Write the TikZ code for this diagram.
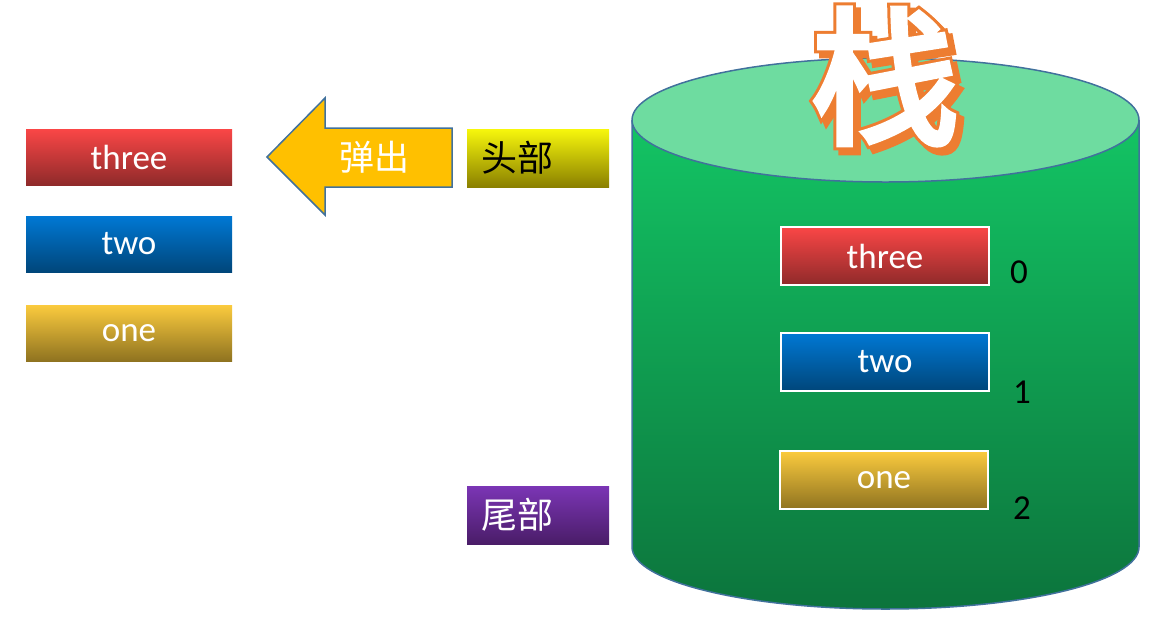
\documentclass[tikz,border=0pt]{standalone}
\usepackage{fontspec}
\usetikzlibrary{calc}
\setmainfont{Carlito}
\newfontfamily\cjk{Noto Sans CJK SC}
\definecolor{redT}{HTML}{FA4646}
\definecolor{redB}{HTML}{8F2A2A}
\definecolor{bluT}{HTML}{0078D4}
\definecolor{bluB}{HTML}{00467A}
\definecolor{golT}{HTML}{FBCB3E}
\definecolor{golB}{HTML}{8F7320}
\definecolor{yelT}{HTML}{F7F70C}
\definecolor{yelB}{HTML}{8A8000}
\definecolor{purT}{HTML}{7B35B5}
\definecolor{purB}{HTML}{4A1D68}
\definecolor{cylT}{HTML}{13C464}
\definecolor{cylB}{HTML}{0C743C}
\definecolor{cylTop}{HTML}{6EDCA0}
\definecolor{edge}{HTML}{41719C}
\definecolor{arrowfill}{HTML}{FFC000}
\definecolor{orng}{HTML}{ED7D31}
\newcommand{\strk}[2]{\special{pdf:code 2 Tr #1 w #2 RG}}
\newcommand{\unstrk}{\special{pdf:code 0 Tr}}
\newcommand{\zhan}{栈}
\begin{document}
\begin{tikzpicture}[x=1pt,y=-1pt,
  item/.style={minimum width=206pt,minimum height=56pt,inner sep=0pt,text=white,font=\fontsize{35}{35}\selectfont},
  inner/.style={item,minimum width=208pt,minimum height=58pt,draw=white,line width=2pt},
  redbox/.style={top color=redT,bottom color=redB},
  bluebox/.style={top color=bluT,bottom color=bluB},
  goldbox/.style={top color=golT,bottom color=golB},
  tag/.style={minimum width=142pt,minimum height=58pt,inner sep=0pt},
  tagtext/.style={font=\cjk\fontsize{36}{36}\selectfont,inner sep=0pt},
  idx/.style={font=\fontsize{35}{35}\selectfont,inner sep=0pt},
  bigzi/.style={font=\cjk\fontsize{148}{148}\selectfont,inner sep=0pt}]
\useasboundingbox (0,0) rectangle (1149,622);
% left boxes
\node[item,redbox] (lthree) at (129,157) {three};
\node[item,bluebox] (ltwo) at (129,244) {two};
\node[item,goldbox] (lone) at (129,333) {one};
% arrow
\draw[fill=arrowfill,draw=edge,line width=1.5pt,line join=miter]
  (267,157) -- (325,98) -- (325,128) -- (452,128) -- (452,187) -- (325,187) -- (325,215) -- cycle;
\node[font=\cjk\fontsize{35}{35}\selectfont,text=white,inner sep=0pt] (pop) at (374,157) {弹出};
% tags
\node[tag,top color=yelT,bottom color=yelB] (head) at (538,158) {};
\node[tagtext,text=black] (headt) at (517,158) {头部};
\node[tag,top color=purT,bottom color=purB] (tail) at (538,515) {};
\node[tagtext,text=white] (tailt) at (517,515) {尾部};
% cylinder
\shade[top color=cylT,bottom color=cylB] (632,120) -- (632,547) arc[start angle=180,end angle=360,x radius=253.5pt,y radius=62pt] -- (1139,120) -- cycle;
\draw[edge,line width=1.5pt] (632,120) -- (632,547) arc[start angle=180,end angle=360,x radius=253.5pt,y radius=62pt] -- (1139,120);
\draw[edge,line width=1.5pt,fill=cylTop] (885.5,120) ellipse [x radius=253.5pt,y radius=62pt];
% title character: shadow, orange outline, white face in one node
\node[bigzi] (zi) at (885,79) {%
  \rlap{\hspace*{5pt}\raisebox{-5pt}{\color{orng}\strk{12}{0.929 0.490 0.192}\zhan\unstrk}}%
  \rlap{\color{orng}\strk{12}{0.929 0.490 0.192}\zhan\unstrk}%
  {\color{white}\strk{6}{1 1 1}\zhan\unstrk}};
% inner boxes
\node[inner,redbox] (three) at (885,256) {three};
\node[inner,bluebox] (two) at (885,362) {two};
\node[inner,goldbox] (one) at (884,480) {one};
\node[idx] (i0) at (1019,272) {0};
\node[idx] (i1) at (1022,392) {1};
\node[idx] (i2) at (1022,508) {2};
\end{tikzpicture}
\end{document}
